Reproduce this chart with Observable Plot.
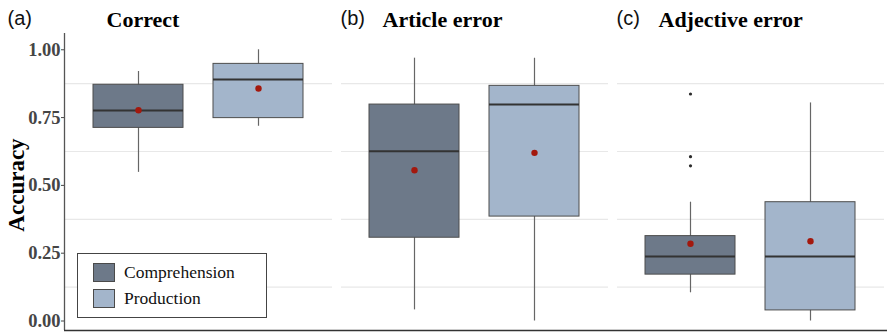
<!DOCTYPE html>
<html>
<head>
<meta charset="utf-8">
<script src="https://cdn.jsdelivr.net/npm/d3@7"></script>
<script src="https://cdn.jsdelivr.net/npm/@observablehq/plot@0.6"></script>
<style>
  html, body { margin: 0; padding: 0; background: #fff; }
  #wrap { position: relative; width: 887px; height: 332px; }
  #legend { position: absolute; left: 77px; top: 253px; width: 190px; height: 65px; box-sizing: border-box;
            border: 1px solid #444; background: #fff; font-family: "Liberation Serif", serif; font-size: 17.5px; color: #111; }
  .item { position: absolute; left: 15px; height: 21px; display: flex; align-items: center; }
  .sw { width: 22px; height: 19px; border: 1px solid #4a4a4a; margin-right: 9px; box-sizing: border-box; }
</style>
</head>
<body>
<div id="wrap"></div>
<script>
// ---- data ----
const panels = ["Correct", "Article error", "Adjective error"];
const tags = ["(a)", "(b)", "(c)"];
const groups = ["Comprehension", "Production"];
const groupColors = ["#6d7989", "#a3b5cb"];

const boxPanel    = ["Correct", "Correct", "Article error", "Article error", "Adjective error", "Adjective error"];
const boxGroup    = ["Comprehension", "Production", "Comprehension", "Production", "Comprehension", "Production"];
const whiskerLow  = [0.548, 0.718, 0.041, 0.000, 0.104, 0.000];
const q1          = [0.712, 0.748, 0.307, 0.385, 0.171, 0.039];
const median      = [0.776, 0.890, 0.626, 0.798, 0.238, 0.238];
const q3          = [0.871, 0.948, 0.798, 0.867, 0.313, 0.438];
const whiskerHigh = [0.920, 1.000, 0.969, 0.969, 0.438, 0.804];
const means       = [0.777, 0.857, 0.556, 0.620, 0.285, 0.294];

const outlierPanel = ["Adjective error", "Adjective error", "Adjective error"];
const outlierGroup = ["Comprehension", "Comprehension", "Comprehension"];
const outlierValue = [0.837, 0.606, 0.572];

const yTicks = [0, 0.25, 0.5, 0.75, 1];
const gridValues = [0.125, 0.375, 0.625, 0.875];

// ---- tables ----
const boxes = boxPanel.map((p, i) => ({
  panel: p, group: boxGroup[i], lo: whiskerLow[i], q1: q1[i], med: median[i],
  q3: q3[i], hi: whiskerHigh[i], mean: means[i]
}));
const outliers = outlierPanel.map((p, i) => ({panel: p, group: outlierGroup[i], value: outlierValue[i]}));
const titles = panels.map((p, i) => ({panel: p, tag: tags[i]}));

const serif = "'Liberation Serif', 'Times New Roman', serif";
const sans = "'Liberation Sans', Arial, sans-serif";

const chart = Plot.plot({
  width: 887, height: 332,
  marginLeft: 65, marginRight: 2, marginTop: 33, marginBottom: 2,
  style: {background: "white", overflow: "visible"},
  fx: {domain: panels, axis: null, paddingInner: 0.0326, paddingOuter: 0},
  x: {domain: groups, axis: null, paddingInner: 0.248, paddingOuter: 0.2285},
  y: {domain: [-0.035, 1.06]},
  color: {domain: groups, range: groupColors},
  marks: [
    Plot.ruleY(gridValues, {stroke: "#e8e8e8", strokeWidth: 1.2}),
    Plot.axisY(yTicks, {
      tickFormat: d => d.toFixed(2), tickSize: 4, tickPadding: 1, label: null,
      fontSize: 18.5, fontWeight: "bold", fontFamily: serif, color: "#454545"
    }),
    Plot.ruleX(boxes, {fx: "panel", x: "group", y1: "lo", y2: "hi", stroke: "#666", strokeWidth: 1.2}),
    Plot.barY(boxes, {fx: "panel", x: "group", y1: "q1", y2: "q3", fill: "group", stroke: "#4d4d4d", strokeWidth: 1}),
    Plot.tickY(boxes, {fx: "panel", x: "group", y: "med", stroke: "#333", strokeWidth: 2}),
    Plot.dot(boxes, {fx: "panel", x: "group", y: "mean", r: 3.2, fill: "#a3180d", stroke: "none"}),
    Plot.dot(outliers, {fx: "panel", x: "group", y: "value", r: 1.6, fill: "#2b2b2b", stroke: "none"}),
    // panel titles
    Plot.text(titles, {fx: "panel", text: "panel", frameAnchor: "top-left", textAnchor: "start", lineAnchor: "bottom",
      dx: 41, dy: -7, fontSize: 22, fontWeight: "bold", fontFamily: serif, fill: "#000"}),
    // tags
    Plot.text(titles.slice(0, 1), {fx: "panel", text: "tag", frameAnchor: "top-left", textAnchor: "start", lineAnchor: "bottom",
      dx: -58, dy: -9, fontSize: 20, fontFamily: sans, fill: "#111"}),
    Plot.text(titles.slice(1), {fx: "panel", text: "tag", frameAnchor: "top-left", textAnchor: "start", lineAnchor: "bottom",
      dx: -1, dy: -9, fontSize: 20, fontFamily: sans, fill: "#111"}),
    // y axis title (first panel only)
    Plot.text(titles.slice(0, 1), {fx: "panel", text: () => "Accuracy", frameAnchor: "left", textAnchor: "middle",
      lineAnchor: "middle", rotate: -90, dx: -49, dy: 3, fontSize: 23, fontWeight: "bold", fontFamily: serif, fill: "#000"})
  ]
});

const wrap = document.getElementById("wrap");
wrap.appendChild(chart);

// axis lines (left and bottom)
const svg = d3.select(chart);
const ys = chart.scale("y");
const yTop = ys.apply(ys.domain[1]);
const yBot = ys.apply(ys.domain[0]);
svg.append("line").attr("x1", 64.5).attr("x2", 64.5).attr("y1", yTop).attr("y2", yBot)
  .attr("stroke", "#555").attr("stroke-width", 1.3);
svg.append("line").attr("x1", 64).attr("x2", 887).attr("y1", yBot + 0.5).attr("y2", yBot + 0.5)
  .attr("stroke", "#333").attr("stroke-width", 1.5);

// legend
const legend = document.createElement("div");
legend.id = "legend";
groups.forEach((g, i) => {
  const item = document.createElement("div");
  item.className = "item";
  item.style.top = (8 + i * 26) + "px";
  const sw = document.createElement("div");
  sw.className = "sw";
  sw.style.background = groupColors[i];
  const t = document.createElement("span");
  t.textContent = g;
  item.appendChild(sw); item.appendChild(t);
  legend.appendChild(item);
});
wrap.appendChild(legend);
</script>
</body>
</html>
